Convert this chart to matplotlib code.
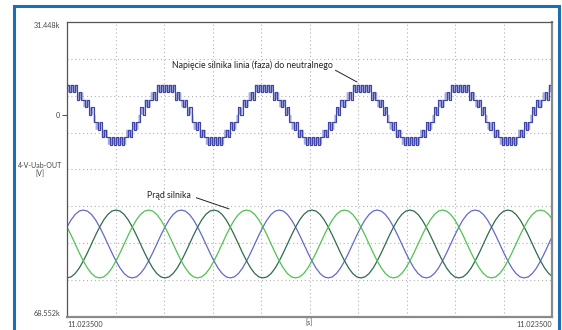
import numpy as np
import matplotlib.pyplot as plt
from matplotlib.patches import Rectangle

plt.rcParams['font.family'] = ['Lato', 'DejaVu Sans']

# scope axis range and labels
y_top = 31.448
y_bottom = -68.552
y_ticks = [31.448, 0, -68.552]
y_tick_labels = ['31.448k', '0', '68.552k']
x_ticks = [0, 10]
x_tick_labels = ['11.023500', '11.023500']
n_xdiv = 10
n_ydiv = 8

period = 2.02  # one electrical cycle in grid divisions

# line-to-neutral voltage: upper PWM level for each 1/48 of a cycle
volt_cycle = [4, 4, 4, 4, 4, 3, 3, 3, 2, 2, 2, 1, 1, 0, -1, -1, -1, -2, -2, -2,
              -3, -3, -3, -3, -3, -3, -3, -3, -3, -2, -2, -2, -1, -1, -1, 0, 1, 1,
              2, 2, 2, 3, 3, 3, 4, 4, 4, 4]
volt_step = 2.54

# motor current, one cycle in 24 samples (normalised)
current_cycle = [1.0, 0.97, 0.87, 0.71, 0.5, 0.26, 0.0, -0.26, -0.5, -0.71, -0.87, -0.97,
                 -1.0, -0.97, -0.87, -0.71, -0.5, -0.26, 0.0, 0.26, 0.5, 0.71, 0.87, 0.97]
current_center = -43.8
current_amp = 11.5
phase_peaks = [0.33, 0.99, 1.65]  # first peak of each phase (divisions)

phase_colors = ['#6569c8', '#2f6b4c', '#4fc24f']
volt_color = '#4045a8'
frame_color = '#1b6db5'

fig = plt.figure(figsize=(5.62, 3.30), dpi=100)
ax = fig.add_axes([67 / 562, 13 / 330, 485 / 562, 295 / 330])

# outer blue frame
fig.patches.append(Rectangle((14 / 562, -0.05), 545 / 562, 1.05 - 6 / 330,
                             transform=fig.transFigure, fill=False,
                             edgecolor=frame_color, linewidth=2.2))

n_cycles = int(np.ceil(n_xdiv / period)) + 1

# voltage staircase, chattering between the level and the one below
hi = np.tile(volt_cycle, n_cycles).astype(float)
k = np.arange(len(hi))
xv = k * period / 48
chatter = np.where(k % 2 == 0, hi, hi - 1)
ax.fill_between(xv, (hi - 1) * volt_step, hi * volt_step,
                step='post', color='#a4a9de', lw=0)
ax.plot(xv, chatter * volt_step, drawstyle='steps-post', color=volt_color, lw=0.85)

# three motor currents
cyc = np.array(current_cycle)
idx = np.arange(24 * n_cycles + 1)
xc = idx * period / 24
for peak, col in zip(phase_peaks, phase_colors):
    shift = int(round(peak / period * 24))
    ax.plot(xc, current_center + current_amp * cyc[(idx - shift) % 24],
            color=col, lw=0.9)

ax.set_xlim(0, n_xdiv)
ax.set_ylim(y_bottom, y_top)

ax.set_xticks(x_ticks)
ax.set_xticklabels(x_tick_labels)
ax.set_yticks(y_ticks)
ax.set_yticklabels(y_tick_labels)
ax.set_xticks(np.arange(1, n_xdiv), minor=True)
ax.set_yticks(y_bottom + np.arange(1, n_ydiv) * (y_top - y_bottom) / n_ydiv, minor=True)
ax.grid(which='minor', color='#b0b0b0', linestyle=(0, (1, 2.5)), lw=0.8)
ax.tick_params(which='minor', length=0)
ax.tick_params(axis='x', length=0, pad=3, labelsize=5.2, labelcolor='#444444')
ax.tick_params(axis='y', length=3.5, width=0.8, pad=1.5, labelsize=5.2,
               labelcolor='#444444', color='#555555')
xl = ax.get_xticklabels()
xl[0].set_ha('left')
xl[1].set_ha('right')
yl = ax.get_yticklabels()
yl[0].set_va('top')
yl[2].set_va('bottom')
ticks = ax.yaxis.get_major_ticks()
ticks[0].tick1line.set_visible(False)
ticks[2].tick1line.set_visible(False)

ax.set_xlabel('[s]', fontsize=5.2, color='#444444')
ax.xaxis.set_label_coords(0.5, -0.02)
ax.xaxis.label.set_va('center')
ax.set_ylabel('4-V-Uab-OUT\n[V]', fontsize=5, color='#444444', rotation=0,
              ha='center', va='center', linespacing=1.1)
ax.yaxis.set_label_coords(-0.055, 0.5)

for s in ['top', 'left']:
    ax.spines[s].set_color('#555555')
    ax.spines[s].set_linewidth(0.9)
for s in ['right', 'bottom']:
    ax.spines[s].set_color('#8a8a8a')
    ax.spines[s].set_linewidth(1.6)

ax.annotate('Napięcie silnika linia (faza) do neutralnego', xy=(5.98, 11.1),
            xytext=(2.16, 16.9), fontsize=6.3, color='#222222', va='center',
            arrowprops=dict(arrowstyle='-', lw=0.7, color='#222222',
                            relpos=(1, 0.1), shrinkA=0, shrinkB=0))
ax.annotate('Prąd silnika', xy=(3.34, -31.9), xytext=(1.65, -27.2),
            fontsize=6.3, color='#222222', va='center',
            arrowprops=dict(arrowstyle='-', lw=0.7, color='#222222',
                            relpos=(1, 0.4), shrinkA=2, shrinkB=0))

fig.savefig('out.png', dpi=100)
